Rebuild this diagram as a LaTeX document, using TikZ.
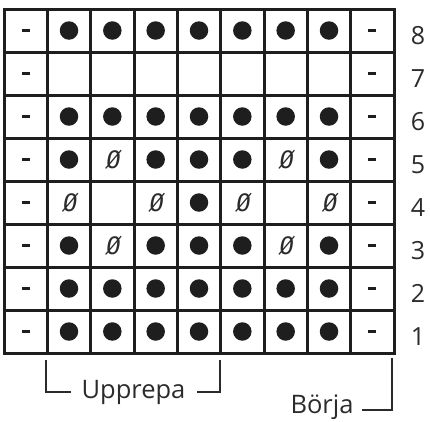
\documentclass[tikz,border=0pt]{standalone}
\usepackage{fontspec}
\setmainfont{Open Sans}
\newfontfamily\zerofont[FakeSlant=0.15]{DejaVu Sans Mono}
\usetikzlibrary{positioning}

\definecolor{gridgray}{HTML}{1E1E1E}
\definecolor{inkgray}{HTML}{2B2B2B}

\tikzset{
  cell/.style={draw=gridgray, line width=3pt, minimum width=43.33pt,
    minimum height=43pt, inner sep=0pt, outer sep=0pt},
  symd/.style={circle, fill=gridgray, minimum size=18.5pt, inner sep=0pt,
    node contents={}},
  symp/.style={rectangle, fill=gridgray, minimum width=8pt,
    minimum height=2.2pt, inner sep=0pt, node contents={}},
  symo/.style={inner sep=0pt, text=inkgray,
    font=\zerofont\fontsize{24}{24}\selectfont, node contents={Ø}},
  syme/.style={inner sep=0pt, node contents={}},
  rowlabel/.style={anchor=base, text=inkgray,
    font=\fontsize{25}{25}\selectfont},
  caption/.style={anchor=base, text=inkgray,
    font=\fontsize{25.5}{25.5}\selectfont},
  bracket/.style={draw=inkgray, line width=1.7pt}
}

\begin{document}
\begin{tikzpicture}[x=1pt, y=-1pt]
  \useasboundingbox (0,0) rectangle (430,421);

  %chart, row 8 on top
  \foreach \r/\row in {8/{p,d,d,d,d,d,d,d,p},
                       7/{p,e,e,e,e,e,e,e,p},
                       6/{p,d,d,d,d,d,d,d,p},
                       5/{p,d,o,d,d,d,o,d,p},
                       4/{p,o,e,o,d,o,e,o,p},
                       3/{p,d,o,d,d,d,o,d,p},
                       2/{p,d,d,d,d,d,d,d,p},
                       1/{p,d,d,d,d,d,d,d,p}} {
    \foreach \s [count=\c] in \row {
      \node[cell] (c-\r-\c) at ({4+43.333*(\c-0.5)}, {353-43*(\r-0.5)}) {};
      \node (s-\r-\c) at (c-\r-\c.center) [sym\s];
    }
    \node[rowlabel] (n-\r) at (418, {353-43*(\r-0.5)+14}) {\r};
  }

  %repeat
  \coordinate (repTL) at (46,360);
  \coordinate (repBL) at (71,392);
  \coordinate (repBR) at (197,392);
  \coordinate (repTR) at (220,360);
  \node[caption] (upprepa) at (133.5,398) {Upprepa};
  \draw[bracket] (repTL) |- (repBL);
  \draw[bracket] (repBR) -| (repTR);

  %start
  \coordinate (startB) at (362,410);
  \coordinate (startT) at (392,358);
  \node[caption] (borja) at (322,413) {Börja};
  \draw[bracket] (startB) -| (startT);

\end{tikzpicture}
\end{document}
